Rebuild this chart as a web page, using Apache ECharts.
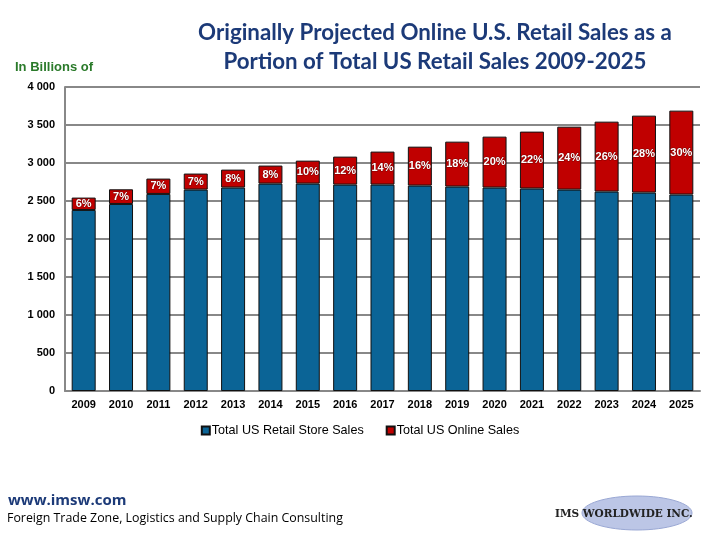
<!DOCTYPE html>
<html><head><meta charset="utf-8">
<script src="https://cdn.jsdelivr.net/npm/echarts@6/dist/echarts.min.js"></script>
<style>html,body{margin:0;padding:0;background:#fff}#c{width:720px;height:540px}</style>
</head><body><div id="c"></div>
<script>
const years = ['2009','2010','2011','2012','2013','2014','2015','2016','2017','2018','2019','2020','2021','2022','2023','2024','2025'];
const storeSales = [2382,2461,2593,2650,2677,2729,2729,2716,2716,2703,2690,2677,2664,2650,2624,2611,2585];
const onlineSales = [163,193,202,211,236,237,302,368,434,512,591,670,749,828,920,1012,1104];
const onlineShare = ['6%','7%','7%','7%','8%','8%','10%','12%','14%','16%','18%','20%','22%','24%','26%','28%','30%'];
const yTicks = [0,500,1000,1500,2000,2500,3000,3500,4000];

const chart = echarts.init(document.getElementById('c'));
chart.setOption({
  animation:false,
  backgroundColor:'#fff',
  title:{
    text:'Originally Projected Online U.S. Retail Sales as a\nPortion of Total US Retail Sales 2009-2025',
    left:430, top:13, textAlign:'center',
    textStyle:{fontFamily:'Lato', fontWeight:'bold', fontSize:22.3, color:'#1c3a78', lineHeight:29}
  },
  legend:{
    bottom:98, left:'center', itemWidth:8, itemHeight:8, itemGap:22,
    icon:'rect',
    textStyle:{fontFamily:'Liberation Sans', fontSize:12.6, color:'#000', padding:[0,0,0,-3]},
    data:['Total US Retail Store Sales','Total US Online Sales']
  },
  grid:{left:65, right:20, top:87, bottom:149},
  xAxis:{
    type:'category', data:years,
    axisLine:{lineStyle:{color:'#888', width:2}},
    axisTick:{show:false},
    axisLabel:{fontFamily:'Liberation Sans', fontWeight:'bold', fontSize:11, color:'#000', margin:8}
  },
  yAxis:{
    type:'value', min:0, max:4000, interval:500,
    axisLine:{show:true, lineStyle:{color:'#888', width:2}},
    splitLine:{lineStyle:{color:'#888', width:2}},
    axisLabel:{fontFamily:'Liberation Sans', fontWeight:'bold', fontSize:11, color:'#000', margin:10,
      formatter:v=>yTicks.includes(v)?String(v).replace(/\B(?=(\d{3})+(?!\d))/g,' '):''}
  },
  series:[
    {name:'Total US Retail Store Sales', type:'bar', stack:'t', data:storeSales, barWidth:24,
     itemStyle:{color:'#0b6496', borderColor:'#111', borderWidth:1}},
    {name:'Total US Online Sales', type:'bar', stack:'t', data:onlineSales, barWidth:24,
     itemStyle:{color:'#c00000', borderColor:'#111', borderWidth:1},
     label:{show:true, position:'inside', formatter:p=>onlineShare[p.dataIndex],
       fontFamily:'Liberation Sans', fontWeight:'bold', fontSize:11, color:'#fff',
       textBorderColor:'#7a0000', textBorderWidth:1}}
  ],
  graphic:[
    {type:'text', left:15, top:61, style:{text:'In Billions of', fontFamily:'Liberation Sans', fontWeight:'bold', fontSize:13, fill:'#2a7a2a'}},
    {type:'text', left:8, top:493, style:{text:'www.imsw.com', fontFamily:'Open Sans', fontWeight:'bold', fontSize:15, fill:'#1c3a78'}},
    {type:'text', left:7, top:512, style:{text:'Foreign Trade Zone, Logistics and Supply Chain Consulting', fontFamily:'Open Sans', fontSize:12.4, fill:'#000'}},
    {type:'ellipse', shape:{cx:637, cy:513, rx:55, ry:17}, style:{fill:'#bcc6e6', stroke:'#9aa8d4', lineWidth:1}},
    {type:'text', left:555, top:509, style:{text:'IMS WORLDWIDE INC.', fontFamily:'DejaVu Serif', fontWeight:'bold', fontSize:10.5, fill:'#222'}}
  ]
});
</script></body></html>
